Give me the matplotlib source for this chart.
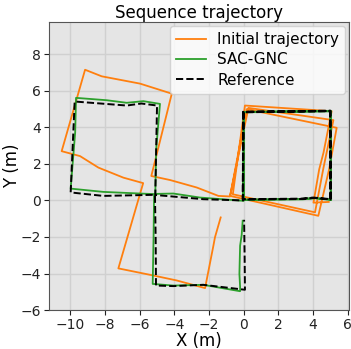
import matplotlib
matplotlib.use("Agg")
import matplotlib.pyplot as plt
import numpy as np

# reference path (right square laps, then left/bottom squares)
ref_x = [5.0, 4.98, -0.02, -0.06, 3.3, 4.0, 4.5, 5.02, 5.0, -0.04, -0.05, 3.4, 4.1, 5.0, 4.99, 0.0, -0.04,
         -2.33, -5.1, -5.05, -5.0, -5.9, -6.75, -9.75, -9.98, -8.1, -5.12, -5.08, -5.06, -4.06, -2.33, 0.07, 0.05, 0.02]
ref_y = [0.07, 4.89, 4.83, 0.07, 0.1, 0.16, 0.12, 0.07, 4.92, 4.86, 0.05, 0.08, 0.14, 0.05, 4.9, 4.85, 0.0,
         0.07, 0.3, 2.8, 5.2, 5.31, 5.2, 5.42, 0.44, 0.25, 0.31, -2.0, -4.66, -4.69, -4.62, -4.89, -3.0, -1.06]

sac_x = [5.02, 5.0, 0.02, -0.02, 3.3, 4.0, 4.5, 5.04, 5.02, -0.02, -0.03, 3.4, 4.1, 5.02, 5.01, 0.02, 0.0,
         -2.52, -4.06, -5.1, -5.05, -4.83, -5.79, -6.75, -7.9, -9.67, -9.72, -9.98, -8.1, -5.98, -5.17, -5.2, -5.25,
         -4.06, -2.33, -0.21, -0.21, -0.25, -0.21, -0.12, -0.06]
sac_y = [0.05, 4.91, 4.85, 0.05, 0.08, 0.14, 0.1, 0.05, 4.9, 4.84, 0.03, 0.06, 0.12, 0.03, 4.88, 4.83, -0.02,
         0.16, 0.38, 0.36, 2.8, 5.29, 5.44, 5.35, 5.49, 5.62, 3.74, 0.65, 0.47, 0.38, 0.35, -2.0, -4.57,
         -4.66, -4.62, -4.97, -4.71, -4.02, -2.48, -1.9, -1.11]

init_x = [4.9, 4.02, 4.35, 4.6, 5.07, 0.07, -0.63, 4.11, 4.6, 5.17, 0.27, -0.79, 4.3, 4.92, 5.36, 0.17, -0.79,
          -1.46, -2.71, -4.25, -5.33, -4.15, -5.98, -8.19, -9.15, -10.5, -9.44, -8.38, -6.94, -5.8,
          -7.23, -5.21, -3.87, -2.23, -1.75, -1.66, -1.33]
init_y = [-0.08, -0.12, 1.7, 2.62, 4.89, 5.2, 0.34, -0.65, 1.8, 4.4, 5.07, 0.25, -0.84, 1.7, 3.98, 5.0, 0.22,
          0.25, 0.71, 1.12, 1.34, 5.85, 6.4, 6.8, 7.16, 2.7, 2.43, 1.8, 1.25, 0.95,
          -3.72, -4.11, -4.38, -4.8, -2.48, -2.02, -0.93]

xticks = [-10, -8, -6, -4, -2, 0, 2, 4, 6]
yticks = [-6, -4, -2, 0, 2, 4, 6, 8]

fig = plt.figure(figsize=(3.51, 3.49), dpi=100)
ax = fig.add_axes([0.1396, 0.1117, 0.8547, 0.825])
ax.set_facecolor('#e5e5e5')
ax.grid(True, color='#d0d0d0', linewidth=1.0)
ax.set_axisbelow(True)

ax.plot(init_x, init_y, color='#ff7f0e', linewidth=1.3, label='Initial trajectory')
ax.plot(sac_x, sac_y, color='#2ca02c', linewidth=1.3, label='SAC-GNC')
ax.plot(ref_x, ref_y, 'k--', linewidth=1.4, label='Reference')

ax.set_xlim(-11.23, 6.07)
ax.set_ylim(-6, 9.77)
ax.set_xticks(xticks)
ax.set_yticks(yticks)
ax.tick_params(labelsize=10, colors='#222222', pad=2)
for s in ax.spines.values():
    s.set_color('#555555')

ax.set_xlabel('X (m)', fontsize=12, labelpad=0)
ax.set_ylabel('Y (m)', fontsize=12, labelpad=0)
ax.set_title('Sequence trajectory', fontsize=12, pad=0)
ax.legend(loc='upper right', fontsize=11, framealpha=0.8, borderaxespad=0.25,
          labelspacing=0.35, handletextpad=0.7)

fig.savefig('out.png', dpi=100)
